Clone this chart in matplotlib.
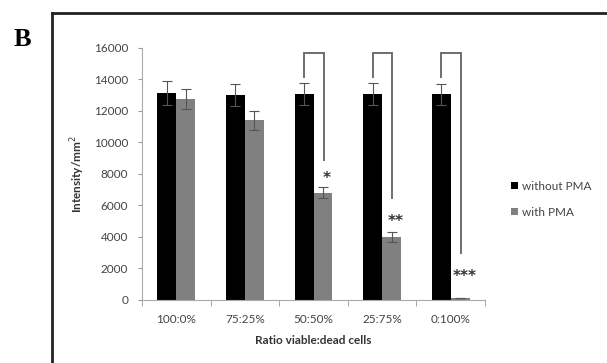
import numpy as np
import matplotlib.pyplot as plt
from matplotlib.lines import Line2D

# Data
ratios = ['100:0%', '75:25%', '50:50%', '25:75%', '0:100%']
without_pma = [13150, 13000, 13100, 13100, 13050]
without_err = [750, 700, 700, 700, 650]
with_pma = [12750, 11400, 6800, 4000, 100]
with_err = [650, 600, 350, 300, 0]
stars = ['', '', '*', '**', '***']
star_y = [0, 0, 7700, 5000, 1500]
bracket_bottom = [0, 0, 8900, 6500, 3000]

plt.rcParams['font.family'] = ['Lato', 'DejaVu Sans']

fig = plt.figure(figsize=(6.07, 3.63), dpi=100)
ax = fig.add_axes([0.234, 0.1736, 0.565, 0.6942])

x = np.arange(len(ratios))
w = 0.275
ekw = dict(ecolor='#555555', elinewidth=0.8, capsize=3.5, capthick=0.8)
ax.bar(x - w / 2, without_pma, w, color='black', label='without PMA', yerr=without_err, error_kw=ekw)
ax.bar(x + w / 2, with_pma, w, color='#808080', label='with PMA', yerr=with_err, error_kw=ekw)

# significance brackets
for i in range(len(ratios)):
    if not stars[i]:
        continue
    xl = x[i] - w / 2
    xr = x[i] + w / 2 + 0.01
    ax.plot([xl, xl, xr, xr], [14150, 15700, 15700, bracket_bottom[i]],
            color='#6e6e6e', lw=1.4, solid_joinstyle='miter')
    ax.text(xr + 0.05, star_y[i], stars[i], ha='center', va='center',
            fontsize=11, fontweight='bold', color='#333333', family='DejaVu Sans')

ax.set_xlim(-0.5, len(ratios) - 0.5)
ax.set_ylim(0, 16000)
ax.set_yticks(np.arange(0, 16001, 2000))
ax.set_xticks(x)
ax.set_xticklabels(ratios)
ax.set_xticks(np.arange(-0.5, len(ratios), 1), minor=True)
ax.tick_params(axis='x', which='major', length=0, pad=10, labelsize=8.5, colors='#444444')
ax.tick_params(axis='x', which='minor', length=4, color='#999999', direction='out')
ax.tick_params(axis='y', length=3, color='#999999', labelsize=8.5, labelcolor='#444444', pad=7)

for s in ['top', 'right']:
    ax.spines[s].set_visible(False)
for s in ['left', 'bottom']:
    ax.spines[s].set_color('#aaaaaa')
    ax.spines[s].set_linewidth(0.8)

ax.set_xlabel('Ratio viable:dead cells', fontsize=8.5, fontweight='bold', color='#333333', labelpad=7)
ax.set_ylabel('Intensity/mm$^2$', fontsize=8.5, fontweight='bold', color='#333333', labelpad=5)

ax.legend(loc='center left', bbox_to_anchor=(1.045, 0.40), frameon=False, fontsize=8.5,
          handlelength=0.6, handleheight=0.6, handletextpad=0.3, labelspacing=1.3,
          labelcolor='#444444')

# panel border and label
fig.add_artist(Line2D([52 / 607, 1.0], [1 - 13 / 363, 1 - 13 / 363], transform=fig.transFigure,
                      color='#222222', lw=2))
fig.add_artist(Line2D([52 / 607, 52 / 607], [0.0, 1 - 13 / 363], transform=fig.transFigure,
                      color='#222222', lw=2))
fig.text(22 / 607, 1 - 39 / 363, 'B', fontsize=19, fontweight='bold', family='Liberation Serif',
         ha='center', va='center')

fig.savefig('out.png', dpi=100)
